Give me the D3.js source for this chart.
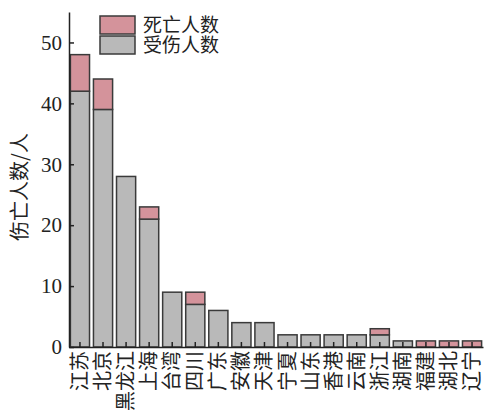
<!DOCTYPE html>
<html>
<head>
<meta charset="utf-8">
<script src="https://cdn.jsdelivr.net/npm/d3@7"></script>
<style>
  html, body { margin: 0; padding: 0; background: #fff; }
  svg { display: block; }
</style>
</head>
<body>
<svg id="chart" width="484" height="417"></svg>
<script>
// Casualties by province
const provinces = ["江苏","北京","黑龙江","上海","台湾","四川","广东","安徽","天津","宁夏","山东","香港","云南","浙江","湖南","福建","湖北","辽宁"];
const injured   = [42, 39, 28, 21, 9, 7, 6, 4, 4, 2, 2, 2, 2, 2, 1, 0, 0, 0];
const deaths    = [6, 5, 0, 2, 0, 2, 0, 0, 0, 0, 0, 0, 0, 1, 0, 1, 1, 1];
const yTicks    = [0, 10, 20, 30, 40, 50];
const seriesNames = ["死亡人数", "受伤人数"];

const colors = { deaths: "#d4939b", injured: "#b9b9b9", stroke: "#3a3a3a" };
const latin = "'Liberation Serif', 'Times New Roman', serif";
const cjk = "'Noto Sans CJK SC', 'Noto Sans', sans-serif";
// Latin face first (tighter line box), CJK glyphs fall back to Noto
const mixed = "'Liberation Serif', 'Noto Sans CJK SC', serif";

const svg = d3.select("#chart");
const plot = { left: 69, right: 483, top: 12, bottom: 347 };

const x = d3.scaleBand().domain(provinces).range([plot.left, plot.right]).paddingInner(0.17).paddingOuter(0.06);
const y = d3.scaleLinear().domain([0, 55]).range([plot.bottom, plot.top]);

const rows = provinces.map((p, i) => ({ p, injured: injured[i], deaths: deaths[i] }));
const stack = d3.stack().keys(["injured", "deaths"])(rows);

const g = svg.append("g");
stack.forEach(layer => {
  g.selectAll(null).data(layer.filter(d => d[1] > d[0])).enter().append("rect")
    .attr("x", d => x(d.data.p))
    .attr("width", x.bandwidth())
    .attr("y", d => y(d[1]))
    .attr("height", d => y(d[0]) - y(d[1]))
    .attr("fill", layer.key === "deaths" ? colors.deaths : colors.injured)
    .attr("stroke", colors.stroke)
    .attr("stroke-width", 1.5);
});

// Y axis with inward ticks
const yAxis = svg.append("g").attr("transform", `translate(${plot.left},0)`)
  .call(d3.axisLeft(y).tickValues(yTicks).tickSizeInner(-5).tickSizeOuter(0).tickPadding(8));
yAxis.select(".domain").attr("stroke", "#222").attr("stroke-width", 1.5);
yAxis.selectAll(".tick line").attr("stroke", "#222").attr("stroke-width", 1.5);
yAxis.selectAll(".tick text").attr("font-family", latin).attr("font-size", 21).attr("fill", "#222")
  .attr("x", -7);

// X axis with inward ticks and vertical labels
const xAxis = svg.append("g").attr("transform", `translate(0,${plot.bottom})`)
  .call(d3.axisBottom(x).tickSizeInner(-5).tickSizeOuter(0).tickFormat(""));
xAxis.select(".domain").attr("stroke", "#222").attr("stroke-width", 1.5);
xAxis.selectAll(".tick line").attr("stroke", "#222").attr("stroke-width", 1.5);

svg.append("g").selectAll("text").data(provinces).enter().append("text")
  .attr("transform", d => `translate(${x(d) + x.bandwidth() / 2 + 7},${plot.bottom + 4}) rotate(-90)`)
  .attr("text-anchor", "end")
  .attr("font-family", cjk)
  .attr("font-size", 20)
  .attr("fill", "#222")
  .text(d => d);

// Y axis title
svg.append("text")
  .attr("transform", `translate(27,187) rotate(-90)`)
  .attr("text-anchor", "middle")
  .attr("font-family", cjk)
  .attr("font-size", 20)
  .attr("fill", "#222")
  .text("伤亡人数/人");

// Legend
const legend = svg.append("g").attr("transform", "translate(100,15)");
const legendColors = [colors.deaths, colors.injured];
const rowGap = 20;
legend.selectAll("rect").data(seriesNames).enter().append("rect")
  .attr("x", 0).attr("y", (d, i) => i * rowGap + 1)
  .attr("width", 35).attr("height", 18)
  .attr("fill", (d, i) => legendColors[i])
  .attr("stroke", colors.stroke).attr("stroke-width", 1.5);
legend.selectAll("text").data(seriesNames).enter().append("text")
  .attr("x", 43).attr("y", (d, i) => i * rowGap + 17)
  .attr("font-family", mixed).attr("font-size", 19)
  .attr("fill", "#222")
  .text(d => d);
</script>
</body>
</html>
